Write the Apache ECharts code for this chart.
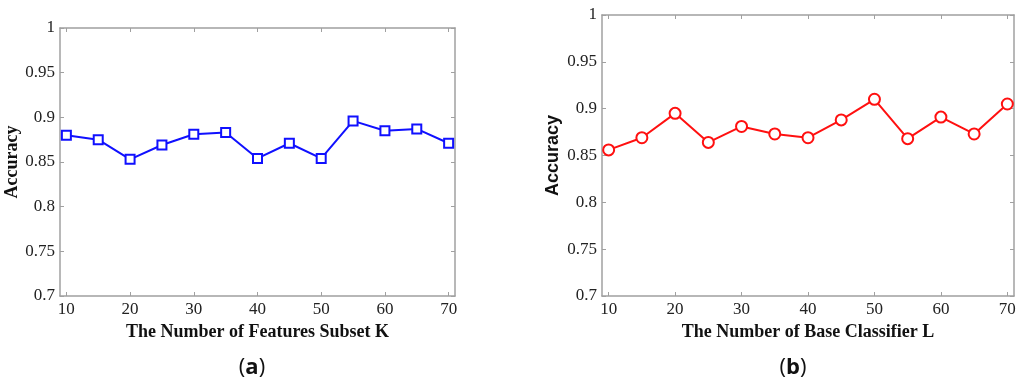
<!DOCTYPE html>
<html>
<head>
<meta charset="utf-8">
<script src="https://cdn.jsdelivr.net/npm/echarts@6/dist/echarts.min.js"></script>
<style>
html,body{margin:0;padding:0;background:#fff;}
#chart{width:1024px;height:385px;}
</style>
</head>
<body>
<div id="chart"></div>
<script>
// ---- data ----
const subsetK = [10, 15, 20, 25, 30, 35, 40, 45, 50, 55, 60, 65, 70];
const accuracyK = [0.880, 0.875, 0.853, 0.869, 0.881, 0.883, 0.854, 0.871, 0.854, 0.896, 0.885, 0.887, 0.871];
const classifierL = [10, 15, 20, 25, 30, 35, 40, 45, 50, 55, 60, 65, 70];
const accuracyL = [0.856, 0.869, 0.895, 0.864, 0.881, 0.873, 0.869, 0.888, 0.910, 0.868, 0.891, 0.873, 0.905];
const xTickValues = [10, 20, 30, 40, 50, 60, 70];
const xLabelA = 'The Number of Features Subset K';
const xLabelB = 'The Number of Base Classifier L';
const yLabel = 'Accuracy';
const captionA = 'a';
const captionB = 'b';

const AXIS_GRAY = '#a0a0a0';
const SERIF = "'Liberation Serif', 'Times New Roman', serif";
const SANS = "'Liberation Sans', Arial, sans-serif";
const CAPTION = "'Open Sans', sans-serif";

function xAxisCfg(gridIndex, name, top) {
  return {
    type: 'value', gridIndex: gridIndex, min: 9, max: 71,
    position: top ? 'top' : 'bottom',
    name: top ? '' : name, nameLocation: 'middle', nameGap: 22,
    nameTextStyle: {fontFamily: SERIF, fontWeight: 'bold', fontSize: 18, color: '#111'},
    axisLine: {show: true, onZero: false, lineStyle: {color: AXIS_GRAY, width: 1.5}},
    axisTick: {show: true, inside: true, length: 4, customValues: xTickValues, lineStyle: {color: AXIS_GRAY}},
    axisLabel: {show: !top, customValues: xTickValues, margin: 5, fontFamily: SERIF, fontSize: 17, color: '#222'},
    splitLine: {show: false}
  };
}
function yAxisCfg(gridIndex, right, nameFont, nameGap) {
  return {
    type: 'value', gridIndex: gridIndex, min: 0.7, max: 1, interval: 0.05,
    position: right ? 'right' : 'left',
    name: right ? '' : yLabel, nameLocation: 'middle', nameGap: nameGap, nameRotate: 90,
    nameTextStyle: {fontFamily: nameFont, fontWeight: 'bold', fontSize: 18, color: '#111'},
    axisLine: {show: true, onZero: false, lineStyle: {color: AXIS_GRAY, width: 1.5}},
    axisTick: {show: true, inside: true, length: 4, lineStyle: {color: AXIS_GRAY}},
    axisLabel: {show: !right, margin: 5, fontFamily: SERIF, fontSize: 17, color: '#222',
      formatter: function (v) { return String(parseFloat(v.toFixed(2))); }},
    splitLine: {show: false}
  };
}

const chart = echarts.init(document.getElementById('chart'), null, {renderer: 'canvas'});
chart.setOption({
  animation: false,
  backgroundColor: '#fff',
  grid: [
    {left: 60, top: 28, width: 395, height: 268},
    {left: 602, top: 15, width: 412, height: 281}
  ],
  xAxis: [
    xAxisCfg(0, xLabelA, false), xAxisCfg(0, '', true),
    xAxisCfg(1, xLabelB, false), xAxisCfg(1, '', true)
  ],
  yAxis: [
    yAxisCfg(0, false, SERIF, 38), yAxisCfg(0, true, SERIF, 0),
    yAxisCfg(1, false, SANS, 40), yAxisCfg(1, true, SANS, 0)
  ],
  series: [
    {
      type: 'line', xAxisIndex: 0, yAxisIndex: 0,
      data: subsetK.map((k, i) => [k, accuracyK[i]]),
      symbol: 'rect', symbolSize: 9,
      lineStyle: {color: '#1010ff', width: 2},
      itemStyle: {color: '#fff', borderColor: '#1010ff', borderWidth: 2}
    },
    {
      type: 'line', xAxisIndex: 2, yAxisIndex: 2,
      data: classifierL.map((k, i) => [k, accuracyL[i]]),
      symbol: 'circle', symbolSize: 11,
      lineStyle: {color: '#ff1010', width: 2},
      itemStyle: {color: '#fff', borderColor: '#ff1010', borderWidth: 2}
    }
  ],
  graphic: [
    {type: 'text', x: 252, y: 368, style: {
      text: '(' + '{b|' + captionA + '})', fontFamily: CAPTION, fontSize: 22, fill: '#111',
      align: 'center', verticalAlign: 'middle',
      rich: {b: {fontFamily: CAPTION, fontWeight: 'bold', fontSize: 22, fill: '#111'}}}},
    {type: 'text', x: 793, y: 368, style: {
      text: '(' + '{b|' + captionB + '})', fontFamily: CAPTION, fontSize: 22, fill: '#111',
      align: 'center', verticalAlign: 'middle',
      rich: {b: {fontFamily: CAPTION, fontWeight: 'bold', fontSize: 22, fill: '#111'}}}}
  ]
});
</script>
</body>
</html>
